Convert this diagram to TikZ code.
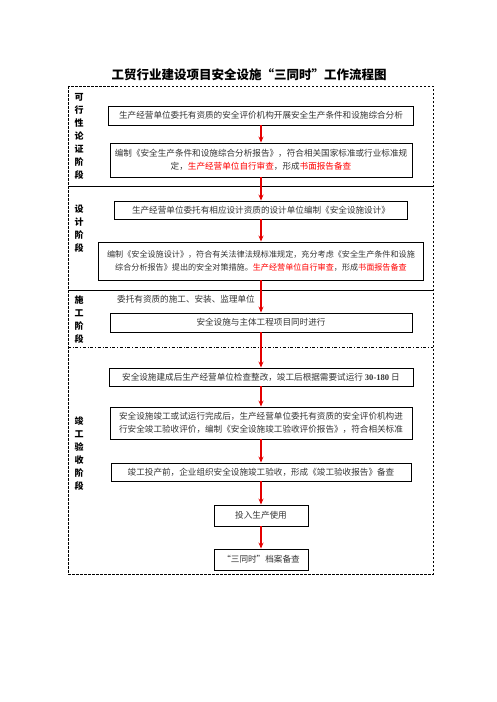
\documentclass[tikz,border=0pt]{standalone}
\usepackage{fontspec}
\setmainfont{Noto Sans CJK SC}
\newfontfamily\latinfont{Liberation Serif}
\usetikzlibrary{arrows.meta}

\begin{document}
\begin{tikzpicture}
  [x=1pt,y=-1pt,
   box/.style={draw, line width=0.9pt, inner sep=0pt, align=center,
     font=\fontsize{8.6}{13}\selectfont, text=black!80},
   stage/.style={inner sep=0pt, align=center, font=\fontsize{9}{13}\selectfont\bfseries},
   flow/.style={-{Stealth[length=6pt,width=5pt]}, red!90!black, line width=1.1pt}]
  \useasboundingbox (0,0) rectangle (496,702);

  \node[font=\fontsize{12.5}{14}\selectfont\bfseries] (title) at (249,75)
    {工贸行业建设项目安全设施“三同时”工作流程图};

  % stage frames
  \draw[dash pattern=on 2.5pt off 1.5pt, line width=0.8pt] (68,86) rectangle (433,574);
  \draw[line width=0.8pt] (68,186) -- (433,186);
  \draw[line width=0.8pt] (68,290) -- (433,290);
  \draw[dash dot, line width=0.8pt] (68,347) -- (433,347);

  \node[stage] (s1) at (79,136) {可\\行\\性\\论\\证\\阶\\段};
  \node[stage] (s2) at (79,229) {设\\计\\阶\\段};
  \node[stage] (s3) at (79,320) {施\\工\\阶\\段};
  \node[stage] (s4) at (79,454) {竣\\工\\验\\收\\阶\\段};

  % steps
  \node[box, minimum width=305, minimum height=19] (a) at (261,115.5)
    {生产经营单位委托有资质的安全评价机构开展安全生产条件和设施综合分析};
  \node[box, minimum width=302, minimum height=34] (b) at (261,160)
    {编制《安全生产条件和设施综合分析报告》，符合相关国家标准或行业标准规\\
     定，\textcolor{red}{生产经营单位自行审查}，形成\textcolor{red}{书面报告备查}};
  \node[box, minimum width=293, minimum height=18] (c) at (261,210)
    {生产经营单位委托有相应设计资质的设计单位编制《安全设施设计》};
  \node[box, minimum width=325, minimum height=38, font=\fontsize{8.1}{13}\selectfont] (d) at (261,261)
    {编制《安全设施设计》，符合有关法律法规标准规定，充分考虑《安全生产条件和设施\\
     综合分析报告》提出的安全对策措施。\textcolor{red}{生产经营单位自行审查}，形成\textcolor{red}{书面报告备查}};
  \node[anchor=west, inner sep=0pt, font=\fontsize{8.6}{13}\selectfont, text=black!80] (t) at (117,299)
    {委托有资质的施工、安装、监理单位};
  \node[box, minimum width=302, minimum height=19] (e) at (261,322.5)
    {安全设施与主体工程项目同时进行};
  \node[box, minimum width=304, minimum height=18] (f) at (261,377)
    {安全设施建成后生产经营单位检查整改，竣工后根据需要试运行 {\latinfont\bfseries 30-180} 日};
  \node[box, minimum width=302, minimum height=32] (g) at (261,423)
    {安全设施竣工或试运行完成后，生产经营单位委托有资质的安全评价机构进\\
     行安全竣工验收评价，编制《安全设施竣工验收评价报告》，符合相关标准};
  \node[box, minimum width=300, minimum height=18] (h) at (261,472)
    {竣工投产前，企业组织安全设施竣工验收，形成《竣工验收报告》备查};
  \node[box, minimum width=94, minimum height=21] (i) at (261,515.5) {投入生产使用};
  \node[box, minimum width=94, minimum height=21] (j) at (261,559.5) {“三同时”档案备查};

  \foreach \from/\to in {a/b,b/c,c/d,d/e,e/f,f/g,g/h,h/i,i/j}
    \draw[flow] (\from) -- (\to);
\end{tikzpicture}
\end{document}
